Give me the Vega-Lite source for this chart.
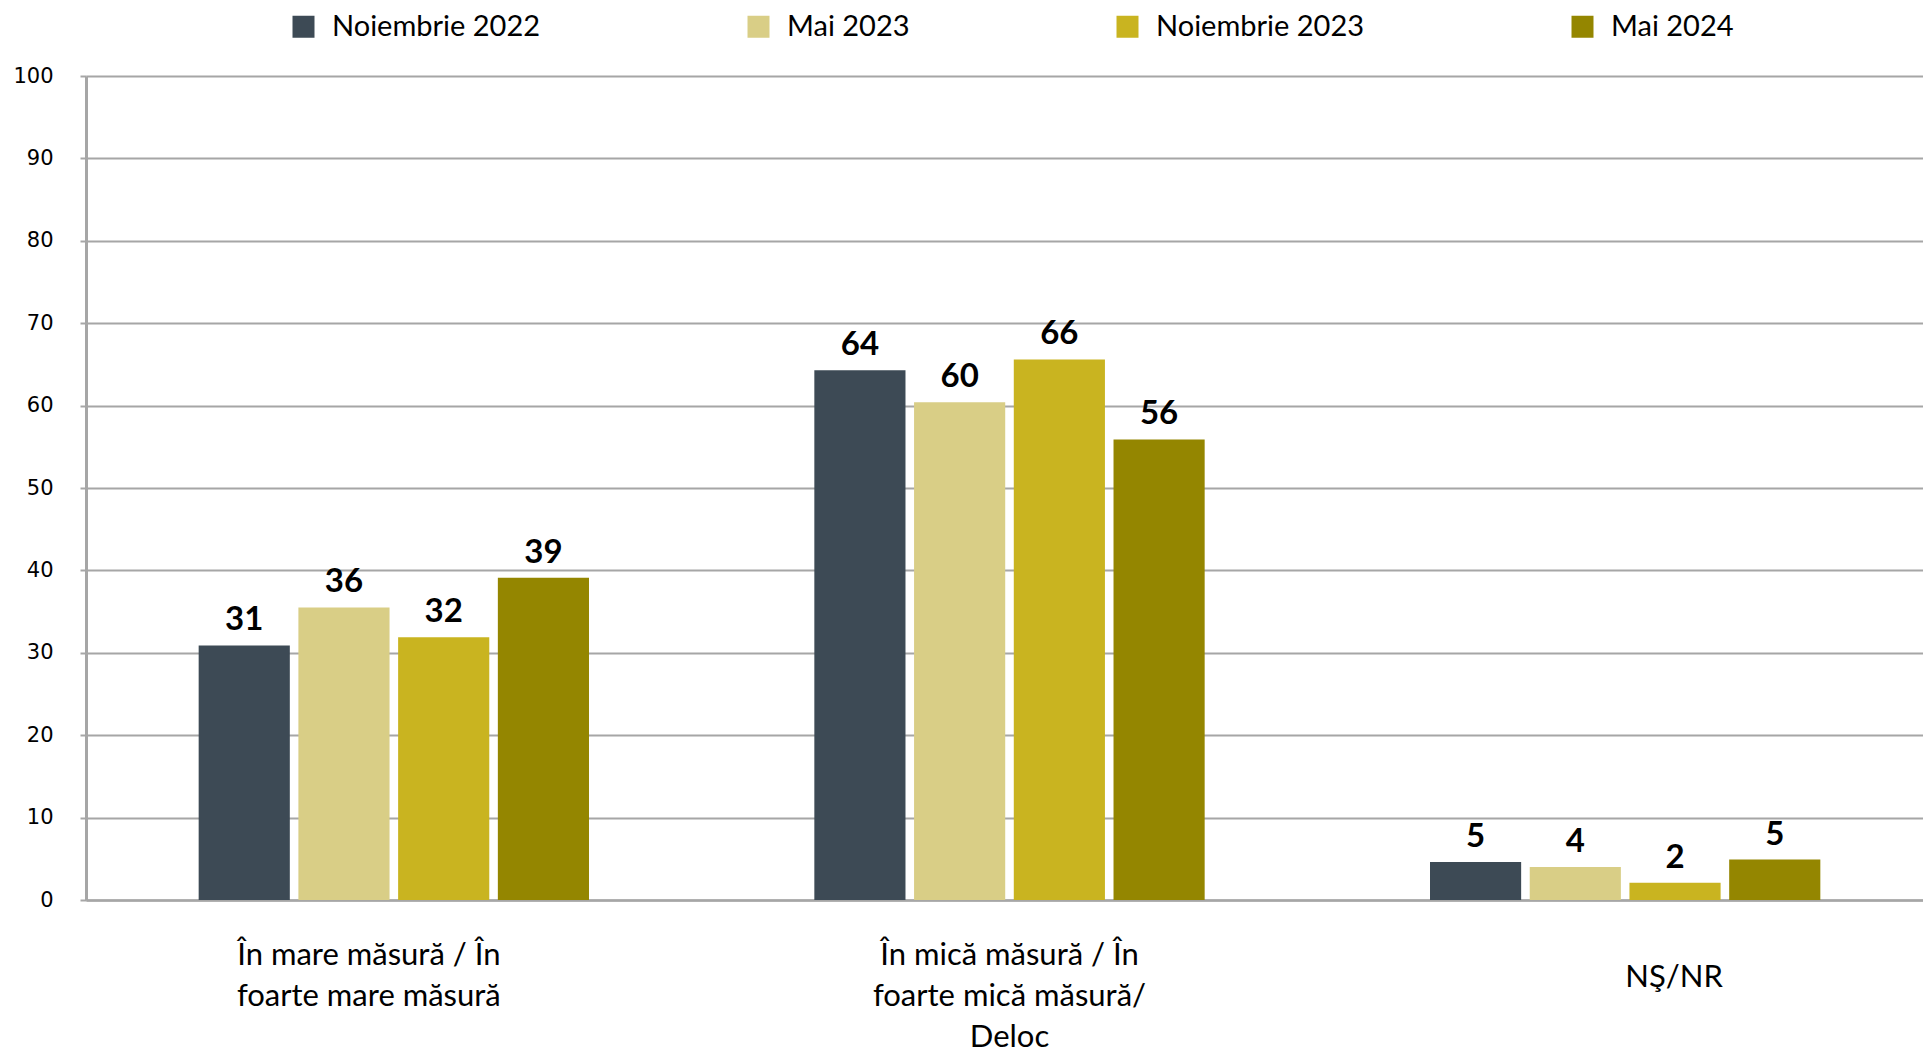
{
  "$schema": "https://vega.github.io/schema/vega-lite/v6.json",
  "autosize": {"type": "none"},
  "padding": {"left": 86, "top": 76, "right": 0, "bottom": 155},
  "width": 1847,
  "height": 824,
  "background": "white",
  "data": {
    "values": [
      {"cat": "În mare măsură / În foarte mare măsură", "period": "Noiembrie 2022", "value": 30.9, "label": "31"},
      {"cat": "În mare măsură / În foarte mare măsură", "period": "Mai 2023", "value": 35.5, "label": "36"},
      {"cat": "În mare măsură / În foarte mare măsură", "period": "Noiembrie 2023", "value": 31.9, "label": "32"},
      {"cat": "În mare măsură / În foarte mare măsură", "period": "Mai 2024", "value": 39.1, "label": "39"},
      {"cat": "În mică măsură / În foarte mică măsură/ Deloc", "period": "Noiembrie 2022", "value": 64.3, "label": "64"},
      {"cat": "În mică măsură / În foarte mică măsură/ Deloc", "period": "Mai 2023", "value": 60.4, "label": "60"},
      {"cat": "În mică măsură / În foarte mică măsură/ Deloc", "period": "Noiembrie 2023", "value": 65.6, "label": "66"},
      {"cat": "În mică măsură / În foarte mică măsură/ Deloc", "period": "Mai 2024", "value": 55.9, "label": "56"},
      {"cat": "NŞ/NR", "period": "Noiembrie 2022", "value": 4.6, "label": "5"},
      {"cat": "NŞ/NR", "period": "Mai 2023", "value": 4.0, "label": "4"},
      {"cat": "NŞ/NR", "period": "Noiembrie 2023", "value": 2.1, "label": "2"},
      {"cat": "NŞ/NR", "period": "Mai 2024", "value": 4.9, "label": "5"}
    ]
  },
  "encoding": {
    "x": {
      "field": "cat", "type": "nominal", "sort": null,
      "scale": {"paddingInner": 0.366, "paddingOuter": 0.183},
      "axis": {
        "title": null, "labelAngle": 0,
        "labelExpr": "datum.value == 'În mare măsură / În foarte mare măsură' ? ['În mare măsură / În', 'foarte mare măsură'] : datum.value == 'NŞ/NR' ? 'NŞ/NR' : ['În mică măsură / În', 'foarte mică măsură/', 'Deloc']",
        "labelFont": "Lato", "labelFontSize": 31, "labelColor": "#000000",
        "labelLineHeight": 41, "labelBaseline": "top",
        "labelPadding": {"expr": "datum.value == 'NŞ/NR' ? 62 : 40"},
        "labelOffset": {"expr": "datum.value == 'NŞ/NR' ? 49 : datum.value == 'În mare măsură / În foarte mare măsură' ? -25 : 0"},
        "ticks": false, "domainColor": "#A6A6A6", "domainWidth": 2.5, "labelLimit": 500
      }
    },
    "xOffset": {
      "field": "period", "type": "nominal", "sort": ["Noiembrie 2022", "Mai 2023", "Noiembrie 2023", "Mai 2024"],
      "scale": {"paddingInner": 0.086, "paddingOuter": 0}
    },
    "y": {
      "field": "value", "type": "quantitative",
      "scale": {"domain": [0, 100]},
      "axis": {
        "title": null, "values": [0, 10, 20, 30, 40, 50, 60, 70, 80, 90, 100],
        "labelFont": "DejaVu Sans", "labelFontSize": 21, "labelColor": "#000000",
        "labelPadding": 27, "tickSize": 6, "tickColor": "#A6A6A6", "tickWidth": 2,
        "domainColor": "#A6A6A6", "domainWidth": 3,
        "gridColor": "#A6A6A6", "gridWidth": 2
      }
    }
  },
  "layer": [
    {
      "mark": {"type": "bar"},
      "encoding": {
        "color": {
          "field": "period", "type": "nominal",
          "sort": ["Noiembrie 2022", "Mai 2023", "Noiembrie 2023", "Mai 2024"],
          "scale": {"domain": ["Noiembrie 2022", "Mai 2023", "Noiembrie 2023", "Mai 2024"], "range": ["#3D4A55", "#D9CE86", "#C9B420", "#948600"]},
          "legend": {
            "title": null, "orient": "none", "direction": "horizontal",
            "legendX": 203, "legendY": -64,
            "symbolType": "square", "symbolSize": 484, "symbolStrokeWidth": 0,
            "labelFont": "Lato", "labelFontSize": 29, "labelColor": "#000000",
            "labelOffset": 14, "columnPadding": 203, "labelLimit": 400
          }
        }
      }
    },
    {
      "mark": {"type": "text", "baseline": "bottom", "dy": -8, "font": "Lato", "fontWeight": "bold", "fontSize": 33, "color": "#000000"},
      "encoding": {
        "text": {"field": "label"}
      }
    }
  ],
  "config": {"view": {"stroke": null}}
}
